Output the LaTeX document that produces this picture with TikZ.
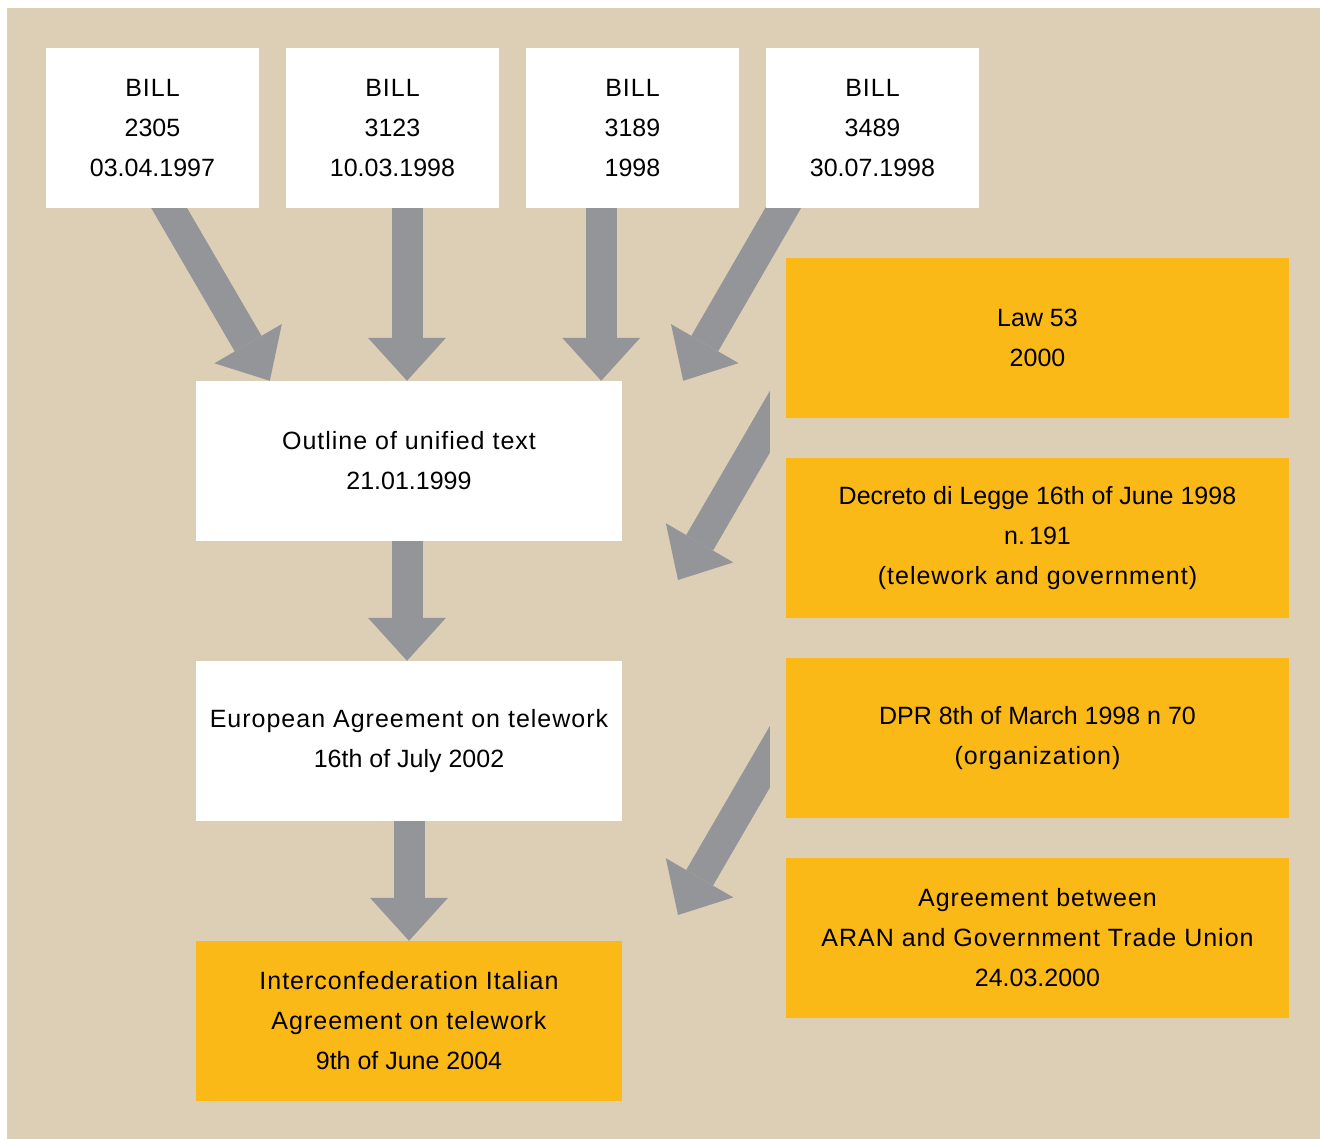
\documentclass[tikz,border=0pt]{standalone}
\usepackage{fontspec}
\setmainfont{Liberation Sans}
\newfontfamily\wide{Liberation Sans}[LetterSpace=4]
\usetikzlibrary{arrows.meta}
\definecolor{paper}{RGB}{221,207,181}
\definecolor{gold}{RGB}{251,185,24}
\definecolor{arrowgrey}{RGB}{147,149,152}
\pgfdeclarelayer{paperlayer}
\pgfdeclarelayer{arrowlayer}
\pgfsetlayers{paperlayer,arrowlayer,main}

\begin{document}
\begin{tikzpicture}[x=1pt,y=-1pt,
  box/.style={inner sep=0pt,minimum width=213pt,minimum height=160pt,
    align=center,font=\fontsize{25}{40}\selectfont},
  bill/.style={box,fill=white},
  wbox/.style={box,fill=white,minimum width=426pt},
  obox/.style={box,fill=gold,minimum width=426pt},
  rbox/.style={box,fill=gold,minimum width=503pt},
  fat/.style={draw=arrowgrey,line width=31pt,
    -{Triangle[length=43pt,width=78pt,line width=0pt]}},
]
\useasboundingbox (0,0) rectangle (1320,1139);
\node[bill] (bill1) at (152.5,128) {{\wide BILL}\\2305\\03.04.1997};
\node[bill] (bill2) at (392.5,128) {{\wide BILL}\\3123\\10.03.1998};
\node[bill] (bill3) at (632.5,128) {{\wide BILL}\\3189\\1998};
\node[bill] (bill4) at (872.5,128) {{\wide BILL}\\3489\\30.07.1998};
\node[wbox] (outline) at (409,461) {{\wide Outline of unified text}\\21.01.1999};
\node[wbox] (euro) at (409,741) {{\wide European Agreement on telework}\\16th of July 2002};
\node[obox] (ital) at (409,1021) {{\wide Interconfederation Italian}\\{\wide Agreement on telework}\\9th of June 2004};
\node[rbox] (law) at (1037.5,338) {Law 53\\2000};
\node[rbox] (decreto) at (1037.5,538) {Decreto di Legge 16th of June 1998\\n.\,191\\{\wide(telework and government)}};
\node[rbox] (dpr) at (1037.5,738) {DPR 8th of March 1998 n 70\\{\wide(organization)}};
\node[rbox] (aran) at (1037.5,938) {{\wide Agreement between}\\{\wide ARAN and Government Trade Union}\\24.03.2000};

\begin{pgfonlayer}{arrowlayer}
\coordinate (t1) at ([xshift=74pt]outline.north west);
\coordinate (t3) at ([xshift=-21pt]outline.north east);
\coordinate (t4) at ([xshift=61pt]outline.north east);
\draw[fat] ([xshift=-30pt]bill1.center) -- (t1);
\draw[fat] ([xshift=-2pt]outline.north |- bill2.center) -- ([xshift=-2pt]outline.north);
\draw[fat] (t3 |- bill3.center) -- (t3);
\draw[fat] ([xshift=-43pt]bill4.center) -- (t4);
\draw[fat] ([xshift=-2pt]outline.center) -- ([xshift=-2pt]euro.north);
\draw[fat] (euro) -- (ital.north);
\begin{scope}
  \clip (0,0) rectangle ([xshift=-16pt]aran.south west);
  \coordinate (t5) at (678,580);
  \coordinate (t6) at (678,915);
  \draw[fat] ([xshift=14pt,yshift=48pt]law.south west) -- (t5);
  \draw[fat] ([xshift=14pt,yshift=113pt]dpr.south west) -- (t6);
\end{scope}
\end{pgfonlayer}

\begin{pgfonlayer}{paperlayer}
\fill[white] (0,0) rectangle (1320,1139);
\fill[paper] (7,8) rectangle (1320,1139);
\end{pgfonlayer}
\end{tikzpicture}
\end{document}
